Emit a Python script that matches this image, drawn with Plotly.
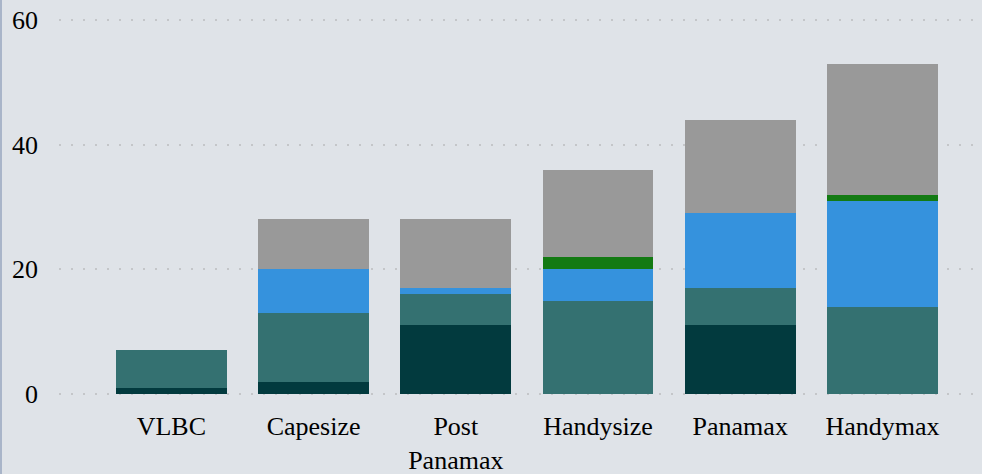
import plotly.graph_objects as go

# Vessel classes along the x axis
categories = ["VLBC", "Capesize", "Post<br>Panamax", "Handysize", "Panamax", "Handymax"]

# Stacked segments, bottom to top
seg_dark = [1, 2, 11, 0, 11, 0]
seg_teal = [6, 11, 5, 15, 6, 14]
seg_blue = [0, 7, 1, 5, 12, 17]
seg_green = [0, 0, 0, 2, 0, 1]
seg_gray = [0, 8, 11, 14, 15, 21]

y_ticks = [0, 20, 40, 60]

series = [
    ("Dark", seg_dark, "#023a3e"),
    ("Teal", seg_teal, "#347171"),
    ("Blue", seg_blue, "#3592dd"),
    ("Green", seg_green, "#137a13"),
    ("Gray", seg_gray, "#999999"),
]

fig = go.Figure()
for name, vals, color in series:
    fig.add_trace(go.Bar(x=categories, y=vals, name=name, marker=dict(color=color, line=dict(width=0))))

bg = "#dfe3e8"
serif = "Liberation Serif, Times New Roman, serif"
margin_l, margin_r, margin_t, margin_b = 59, 0, 18, 78
width, height = 982, 474
plot_w = width - margin_l - margin_r
plot_h = height - margin_t - margin_b

fig.update_layout(
    barmode="stack",
    bargap=0.22,
    width=width,
    height=height,
    margin=dict(l=margin_l, r=margin_r, t=margin_t, b=margin_b, pad=0, autoexpand=False),
    paper_bgcolor=bg,
    plot_bgcolor=bg,
    showlegend=False,
    font=dict(family=serif, size=26, color="#000000"),
    xaxis=dict(
        range=[-0.79, 5.70],
        automargin=False,
        showgrid=False,
        zeroline=False,
        showline=False,
        ticks="",
        ticklabelstandoff=12,
        tickfont=dict(family=serif, size=26, color="#000000"),
    ),
    yaxis=dict(
        range=[-0.32, 60.32],
        automargin=False,
        tickvals=y_ticks,
        showgrid=True,
        gridcolor="#c4c6c9",
        gridwidth=2,
        griddash="2px,10px",
        zeroline=False,
        showline=False,
        ticks="",
        ticklabelstandoff=20,
        tickfont=dict(family=serif, size=26, color="#000000"),
    ),
    shapes=[
        dict(
            type="line",
            xref="paper",
            yref="paper",
            x0=-(margin_l - 1) / plot_w,
            x1=-(margin_l - 1) / plot_w,
            y0=-margin_b / plot_h,
            y1=1 + margin_t / plot_h,
            line=dict(color="#a9b5c9", width=2),
        )
    ],
)

fig.write_html("out.html")
